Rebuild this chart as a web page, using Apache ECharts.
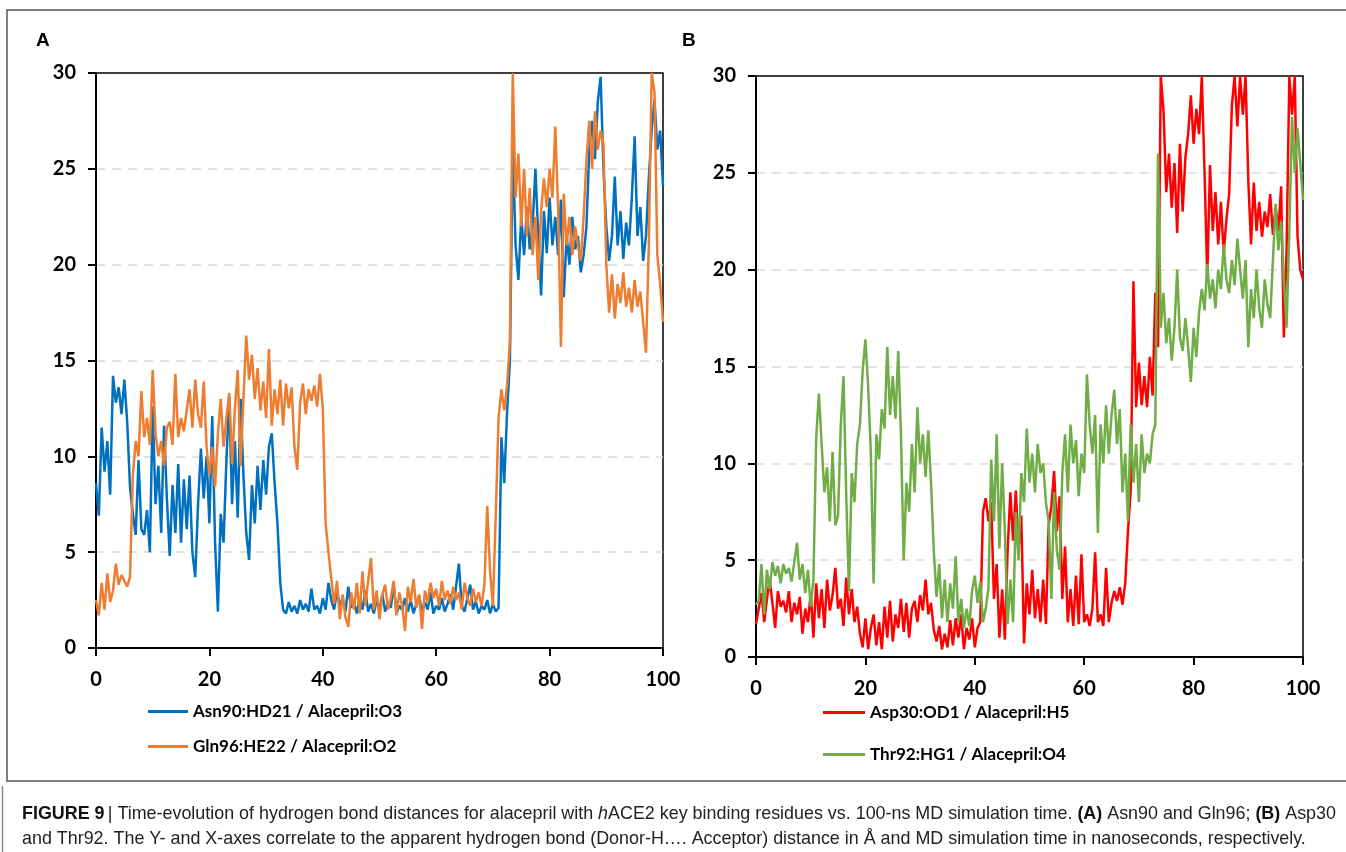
<!DOCTYPE html>
<html><head><meta charset="utf-8">
<script src="https://cdn.jsdelivr.net/npm/echarts@6/dist/echarts.min.js"></script>
<style>html,body{margin:0;padding:0;background:#fff}#c{width:1346px;height:852px}</style>
</head><body><div id="c"></div>
<script>
const timeStep = 0.5;
const xTicks = [0, 20, 40, 60, 80, 100];
const yTicks = [0, 5, 10, 15, 20, 25, 30];

// Panel A
const asn90 = [8.6,6.9,11.5,9.2,10.8,8.0,14.2,12.8,13.6,12.2,14.0,11.8,8.4,7.0,5.9,9.8,6.2,5.9,7.2,5.0,
12.6,7.5,9.5,6.0,11.6,7.8,4.8,8.5,6.0,9.6,5.5,8.8,6.2,9.0,5.0,3.7,7.5,10.4,7.8,10.0,
6.5,12.1,5.5,1.9,7.0,5.5,9.8,13.1,7.5,10.8,6.8,13.0,9.0,6.0,4.6,8.5,6.5,9.5,7.2,9.8,
8.0,10.5,11.2,8.6,6.5,3.4,2.0,1.8,2.4,1.9,2.2,1.8,2.5,2.0,2.3,1.9,3.1,2.0,2.2,1.8,
2.6,2.0,3.4,2.5,2.0,3.0,2.2,2.6,1.9,3.2,2.1,2.4,1.8,2.6,2.0,3.0,1.9,2.3,1.8,2.5,
2.0,2.8,1.9,2.4,2.1,3.3,1.8,2.2,2.0,2.6,1.9,2.5,1.8,2.3,2.7,1.9,2.4,2.0,2.9,1.8,
2.2,2.0,2.6,1.9,2.3,2.8,2.0,3.2,4.4,2.2,1.9,2.6,3.3,2.0,2.4,1.8,2.2,2.0,2.5,1.8,
2.3,1.9,2.1,11.0,8.6,12.3,15.0,26.3,21.0,19.2,22.5,20.5,23.0,20.8,22.0,25.0,21.5,18.4,22.8,20.6,
23.5,21.0,22.5,20.5,23.4,18.3,21.5,20.0,22.5,20.8,21.5,19.6,20.5,22.0,26.0,27.5,25.5,28.5,29.8,25.0,
22.0,20.2,21.5,24.6,21.0,22.8,20.3,22.2,21.0,23.5,26.7,21.5,23.0,20.2,21.5,24.5,27.0,28.6,26.0,27.0,
24.1];
const gln96 = [2.5,1.7,3.4,2.0,3.9,2.4,3.0,4.4,3.3,3.8,3.5,3.2,3.7,9.0,10.8,10.0,13.4,11.0,12.0,10.6,
14.5,11.2,10.0,10.8,9.5,11.5,11.8,10.6,14.3,11.0,12.0,11.3,12.4,13.5,11.5,14.0,12.2,11.5,13.9,10.5,
9.0,10.5,8.4,11.2,13.0,10.5,12.0,13.3,9.6,12.5,14.5,9.5,13.0,16.3,14.0,15.3,13.0,14.6,12.4,13.9,
12.0,15.6,11.6,13.5,12.2,14.0,11.6,13.8,12.5,13.6,10.5,9.3,12.8,13.8,12.2,13.5,12.9,13.7,12.6,14.3,
12.5,6.5,5.0,3.6,2.3,3.5,1.5,2.8,1.6,1.1,2.9,2.0,3.4,1.8,4.0,2.2,3.5,4.7,2.0,3.0,
1.5,2.8,3.3,2.0,2.6,3.5,1.7,2.9,2.2,0.9,3.2,2.4,3.6,2.1,2.8,1.0,3.0,2.4,3.4,2.6,
3.1,2.2,3.5,2.5,3.0,2.3,3.2,2.5,2.9,2.0,3.4,2.6,2.2,3.1,2.4,2.9,2.2,3.3,7.4,4.0,
2.2,6.9,12.0,13.5,12.4,13.7,16.0,30.0,23.5,25.8,22.0,25.0,21.5,24.0,20.5,22.5,19.2,22.8,24.5,23.0,
25.0,23.5,27.2,23.0,15.7,23.7,21.0,22.5,20.5,22.0,21.0,20.2,22.5,25.5,27.5,25.0,28.0,26.0,27.0,26.3,
20.0,17.5,19.5,17.2,19.0,18.0,19.6,17.8,18.8,17.5,19.2,17.8,18.6,17.0,15.4,21.0,30.0,29.0,20.5,19.0,
17.0];

// Panel B
const asp30 = [1.7,2.5,3.3,1.8,3.0,4.0,2.8,1.5,3.4,2.6,2.9,2.3,3.4,1.8,2.8,2.2,3.1,1.2,2.5,1.8,
3.3,1.0,3.8,2.0,3.5,1.5,4.0,2.4,3.2,4.6,2.5,3.0,1.6,4.1,2.2,3.5,1.8,2.6,1.2,0.5,
2.0,0.4,1.5,2.2,0.6,1.8,0.4,2.6,1.0,2.9,0.8,2.2,1.5,3.0,1.3,2.8,1.0,2.5,2.9,1.8,
3.2,2.4,4.0,2.2,2.8,1.4,0.8,1.6,0.4,1.2,0.5,1.9,0.6,2.0,1.0,2.2,0.4,1.5,0.9,2.0,
0.5,1.5,1.8,7.5,8.2,7.0,8.0,3.0,4.8,1.0,3.5,0.9,5.5,8.5,6.0,8.6,5.6,7.3,0.7,3.8,
2.2,4.5,2.0,3.5,1.8,4.0,1.7,6.8,7.8,9.6,6.5,8.3,3.0,5.7,1.8,3.5,1.6,4.2,1.7,5.3,
1.8,2.2,1.6,2.5,5.4,1.8,2.2,1.6,4.6,1.8,2.8,3.4,2.9,3.6,2.7,3.8,6.5,8.6,19.4,12.9,
15.2,13.0,14.5,12.9,15.5,13.5,18.8,16.0,30.0,28.2,24.0,26.0,23.2,25.5,21.9,26.5,23.0,25.8,27.0,29.0,
26.5,28.3,27.0,30.0,25.0,19.6,25.4,22.0,24.0,21.3,23.5,20.8,22.6,23.9,28.5,30.0,27.4,30.0,28.0,30.0,
24.6,21.3,24.5,22.0,23.5,21.7,23.0,22.2,23.9,21.8,23.2,22.0,24.3,16.5,21.0,30.0,28.0,30.0,21.7,20.0,
19.5];
const thr92 = [2.7,2.9,4.8,2.2,4.5,3.5,4.9,4.2,4.7,3.8,4.8,4.3,4.6,3.9,4.9,5.9,4.0,4.8,3.3,4.5,
2.6,4.0,11.3,13.6,11.0,8.5,9.8,7.0,10.6,6.8,7.3,12.0,14.5,8.3,3.4,9.5,8.0,11.0,12.0,14.8,
16.4,14.0,10.5,3.8,11.5,10.2,12.8,11.8,16.0,12.5,14.5,12.3,15.8,11.5,5.0,9.0,7.5,11.0,8.5,12.9,
10.0,11.5,9.3,11.7,9.0,5.5,3.1,4.8,2.0,4.0,1.8,3.8,2.5,5.2,1.8,3.0,1.5,2.5,1.6,3.4,
4.2,2.8,3.9,1.8,2.5,3.6,10.2,7.0,11.5,5.6,10.0,6.5,1.7,4.0,1.8,7.5,5.0,9.5,8.0,11.8,
9.0,10.5,8.5,11.0,9.5,10.0,8.0,7.0,3.0,8.5,5.5,4.5,9.5,11.5,8.5,12.0,10.0,11.2,8.3,10.5,
9.5,14.6,12.0,10.5,12.5,6.4,12.0,10.0,13.0,10.5,12.5,13.8,11.0,12.8,8.5,10.5,7.0,12.0,9.0,11.0,
8.0,11.5,9.5,10.5,10.0,11.5,12.0,26.0,17.0,18.8,16.2,17.5,15.3,17.0,20.0,16.5,15.8,17.5,16.0,14.2,
17.0,15.5,17.8,19.0,17.9,20.3,18.5,19.5,18.0,20.0,19.0,21.3,19.5,18.8,20.5,19.2,21.6,20.0,18.5,20.5,
16.0,19.0,17.5,20.0,18.0,17.0,19.5,18.2,17.5,20.5,23.4,21.0,22.5,19.5,17.0,22.0,27.9,25.0,27.3,25.5,
23.6];

const namesA = ['Asn90:HD21 / Alacepril:O3', 'Gln96:HE22 / Alacepril:O2'];
const namesB = ['Asp30:OD1 / Alacepril:H5', 'Thr92:HG1 / Alacepril:O4'];

function pairs(arr){ return arr.map((v,i)=>[i*timeStep, v]); }

const tickFont = {fontFamily:'Lato', fontWeight:'bold', fontSize:20, color:'#000'};
function xAxis(gi){
  return {type:'value', gridIndex:gi, min:xTicks[0], max:xTicks[xTicks.length-1], interval:20,
    axisLine:{show:true, onZero:false, lineStyle:{color:'#000', width:2}},
    axisTick:{show:true, inside:false, length:8, lineStyle:{color:'#000', width:2}},
    axisLabel:Object.assign({margin:22}, tickFont),
    splitLine:{show:false}};
}
function yAxis(gi){
  return {type:'value', gridIndex:gi, min:yTicks[0], max:yTicks[yTicks.length-1], interval:5,
    axisLine:{show:true, onZero:false, lineStyle:{color:'#000', width:2}},
    axisTick:{show:true, inside:false, length:8, lineStyle:{color:'#000', width:2}},
    axisLabel:Object.assign({margin:20}, tickFont),
    splitLine:{show:true, showMinLine:false, showMaxLine:false, lineStyle:{color:'#d9d9d9', type:[9,7], width:1.5}}};
}
function line(name, data, color, xi){
  return {type:'line', name, xAxisIndex:xi, yAxisIndex:xi, data:pairs(data), showSymbol:false,
    symbol:'none', lineStyle:{color, width:2.5}, itemStyle:{color}, animation:false, clip:true};
}
const legendText = {fontFamily:'Lato', fontWeight:'bold', fontSize:17, color:'#000'};

const chart = echarts.init(document.getElementById('c'), null, {renderer:'canvas'});
chart.setOption({
  backgroundColor:'#fff',
  animation:false,
  grid:[
    {left:96, right:683, top:73, bottom:204, show:true, borderColor:'#000', borderWidth:1.5, backgroundColor:'transparent'},
    {left:756, right:43, top:76, bottom:195, show:true, borderColor:'#000', borderWidth:1.5, backgroundColor:'transparent'}
  ],
  xAxis:[xAxis(0), xAxis(1)],
  yAxis:[yAxis(0), yAxis(1)],
  legend:[
    {data:namesA, orient:'vertical', left:148, top:703, itemWidth:40, itemHeight:3, icon:'rect',
     itemGap:18, textStyle:legendText, padding:0, selectedMode:false},
    {data:namesB, orient:'vertical', left:823, top:704, itemWidth:42, itemHeight:3, icon:'rect',
     itemGap:25, textStyle:legendText, padding:0, selectedMode:false}
  ],
  series:[
    line(namesA[0], asn90, '#0070C0', 0),
    line(namesA[1], gln96, '#ED7D31', 0),
    line(namesB[0], asp30, '#FF0000', 1),
    line(namesB[1], thr92, '#70AD47', 1)
  ],
  graphic:[
    {type:'rect', shape:{x:7, y:10, width:1345, height:771}, style:{fill:'none', stroke:'#555', lineWidth:1.5}, silent:true},
    {type:'line', shape:{x1:2.5, y1:786, x2:2.5, y2:852}, style:{stroke:'#888', lineWidth:1.5}, silent:true},
    {type:'text', left:36, top:31, style:{text:'A', font:'bold 19px "Liberation Sans", Arial', fill:'#000'}},
    {type:'text', left:682, top:31, style:{text:'B', font:'bold 19px "Liberation Sans", Arial', fill:'#000'}},
    {type:'text', left:22, top:802, style:{
      text:'{b|FIGURE 9} {n|| Time-evolution of hydrogen bond distances for alacepril with }{i|h}{n|ACE2 key binding residues vs. 100-ns MD simulation time. }{b|(A)}{n| Asn90 and Gln96; }{b|(B)}{n| Asp30}\n{n|and Thr92. The Y- and X-axes correlate to the apparent hydrogen bond (Donor-H…. Acceptor) distance in Å and MD simulation time in nanoseconds, respectively.}',
      lineHeight:25,
      rich:{
        n:{fontFamily:'Liberation Sans', fontSize:17.9, fill:'#222', lineHeight:25},
        b:{fontFamily:'Liberation Sans', fontSize:17.9, fontWeight:'bold', fill:'#111', lineHeight:25},
        i:{fontFamily:'Liberation Sans', fontSize:17.9, fontStyle:'italic', fill:'#222', lineHeight:25}
      }}}
  ]
});
</script></body></html>
